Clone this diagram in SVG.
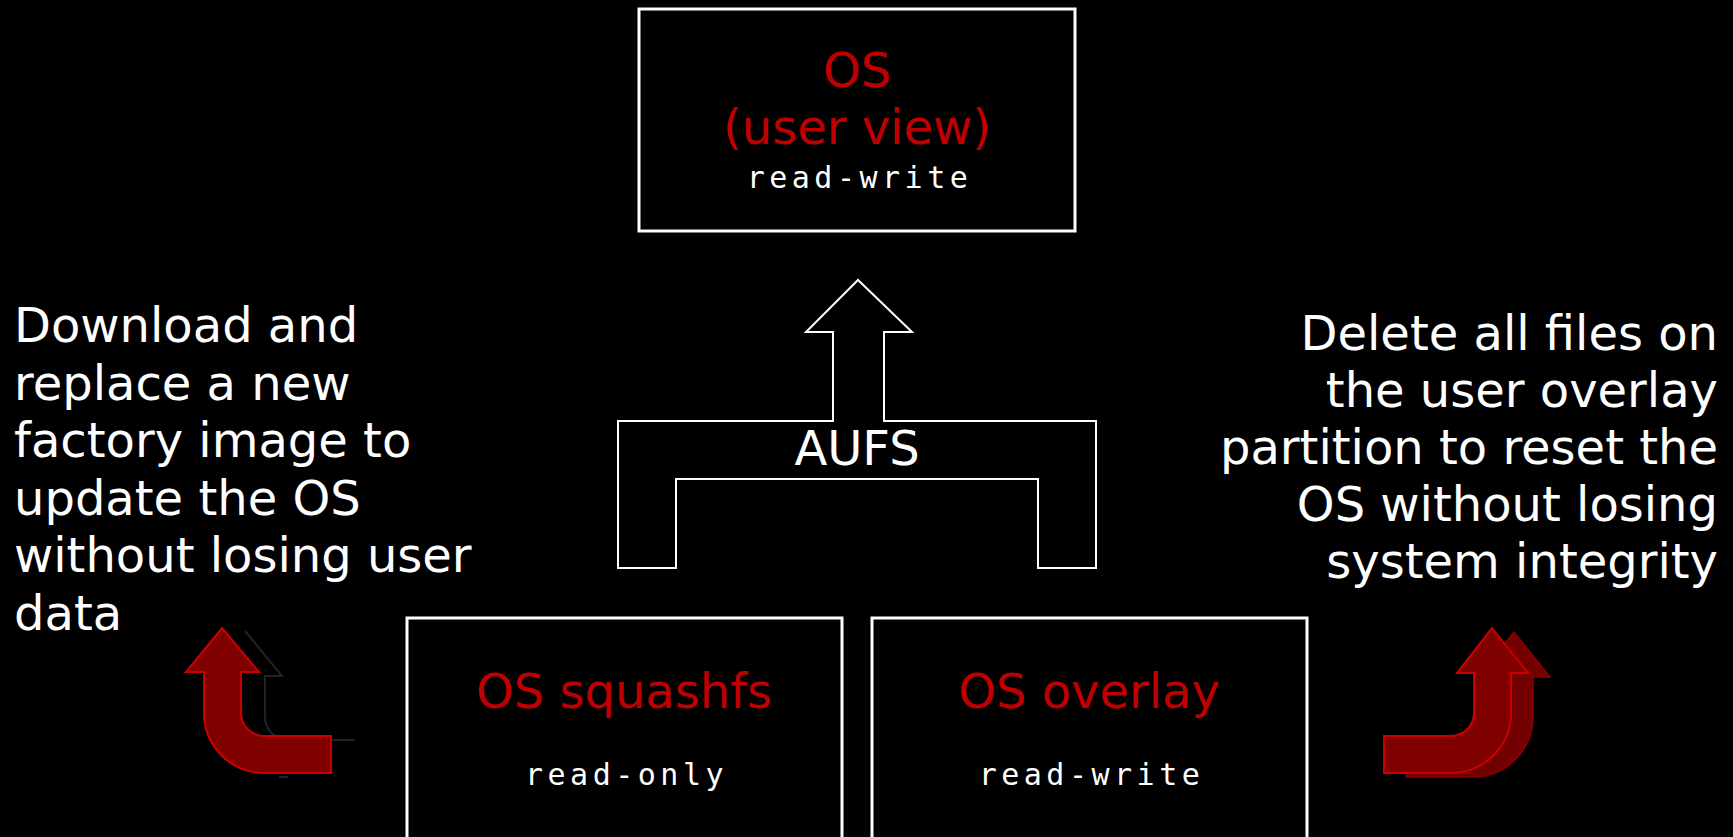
<svg xmlns="http://www.w3.org/2000/svg" width="1733" height="837" viewBox="0 0 1733 837">
<style>
.box{fill:#000;stroke:#fff;stroke-width:3}
.title{font-family:"DejaVu Sans","Liberation Sans",sans-serif;font-size:48px;fill:#c00000;text-anchor:middle}
.mono{font-family:"DejaVu Sans Mono","Liberation Mono",monospace;font-size:30px;fill:#fff;text-anchor:middle;letter-spacing:4.5px}
.note{font-family:"DejaVu Sans","Liberation Sans",sans-serif;font-size:48px;fill:#fff}
.noteR{font-family:"DejaVu Sans","Liberation Sans",sans-serif;font-size:48px;fill:#fff;text-anchor:end}
.aufs{fill:none;stroke:#fff;stroke-width:2}
.red{fill:#800000;stroke:#cc0000;stroke-width:2}
.ghost{fill:none;stroke:#222;stroke-width:2}
.shadow{fill:#720000;stroke:#8a0000;stroke-width:1.5}
</style>
<rect width="1733" height="837" fill="#000"/>
<g id="connectors">
<path class="aufs" d="M618,568 L618,421 L833,421 L833,332 L806,332 L858,280 L912,332 L884,332 L884,421 L1096,421 L1096,568 L1038,568 L1038,479 L676,479 L676,568 Z"/>
</g>
<g id="node-os-user-view">
<rect class="box" x="639" y="9" width="436" height="222"/>
<text class="title" x="857" y="87">OS</text>
<text class="title" x="857" y="144">(user view)</text>
<text class="mono" x="859.5" y="188">read-write</text>
</g>
<g id="node-aufs">
<text class="title" x="857" y="465" style="fill:#fff">AUFS</text>
</g>
<g id="node-os-squashfs">
<rect class="box" x="407" y="618" width="435" height="240"/>
<text class="title" x="624" y="708">OS squashfs</text>
<text class="mono" x="626.5" y="785">read-only</text>
</g>
<g id="node-os-overlay">
<rect class="box" x="872" y="618" width="435" height="240"/>
<text class="title" x="1089" y="708">OS overlay</text>
<text class="mono" x="1091.5" y="785">read-write</text>
</g>
<g id="note-left">
<text class="note" x="14" y="342">Download and</text>
<text class="note" x="14" y="399.5">replace a new</text>
<text class="note" x="14" y="457">factory image to</text>
<text class="note" x="14" y="514.5">update the OS</text>
<text class="note" x="14" y="572">without losing user</text>
<text class="note" x="14" y="629.5">data</text>
</g>
<g id="note-right">
<text class="noteR" x="1718" y="350">Delete all files on</text>
<text class="noteR" x="1718" y="407">the user overlay</text>
<text class="noteR" x="1718" y="464">partition to reset the</text>
<text class="noteR" x="1718" y="521">OS without losing</text>
<text class="noteR" x="1718" y="578">system integrity</text>
</g>
<g id="arrow-left">
<path class="ghost" d="M245,631 L282,676 L265,676 L265,717 A23,23 0 0 0 288,740 L355,740 M279,777 L288,777"/>
<path class="red" d="M222,628 L259,672 L241,672 L241,713 A23,23 0 0 0 264,736 L331,736 L331,773 L264,773 A60,60 0 0 1 204,713 L204,672 L186,672 Z"/>
</g>
<g id="arrow-right">
<path class="shadow" d="M1514,632 L1550,677 L1533,677 L1533,717 A60,60 0 0 1 1473,777 L1406,777 L1406,740 L1473,740 A23,23 0 0 0 1496,717 L1496,677 L1479,677 Z"/>
<path class="red" d="M1492,628 L1528,673 L1511,673 L1511,713 A60,60 0 0 1 1451,773 L1384,773 L1384,736 L1451,736 A23,23 0 0 0 1474,713 L1474,673 L1457,673 Z"/>
</g>
</svg>
